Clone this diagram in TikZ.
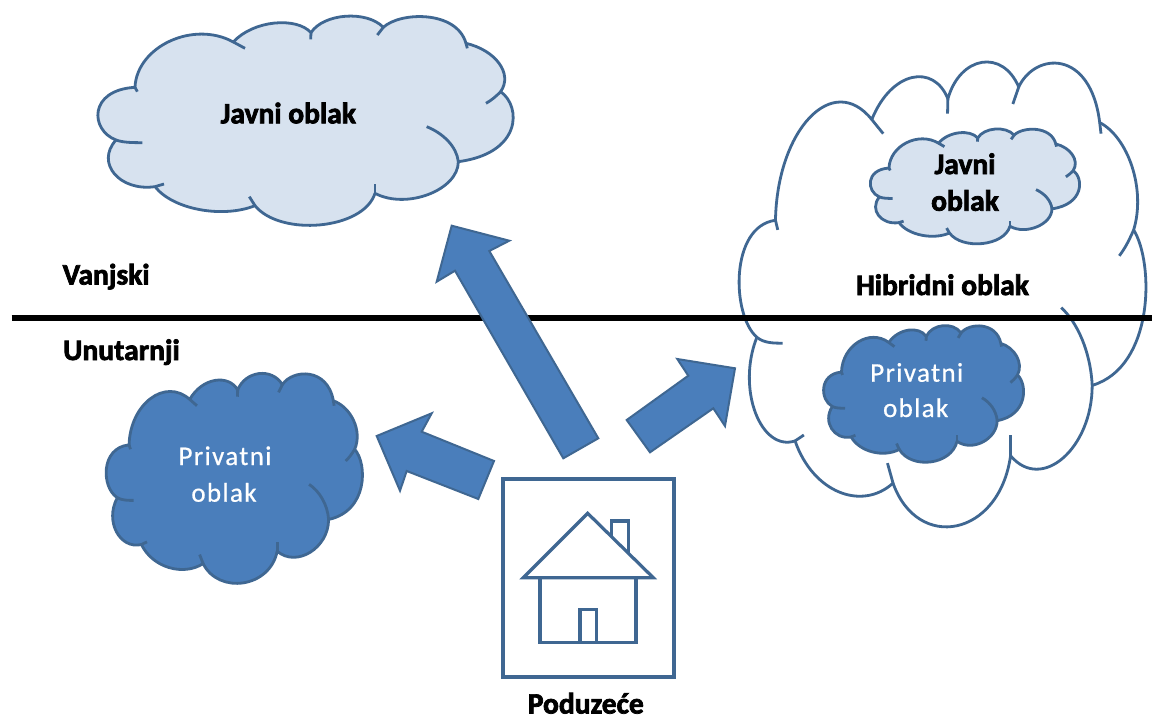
\documentclass[tikz,border=0pt]{standalone}
\usepackage{fontspec}
\setmainfont{Carlito}
\newfontfamily\headfont[FakeBold=2.5]{Carlito Bold}
\newfontfamily\privfont[LetterSpace=5,FakeBold=0.6]{Carlito}
\definecolor{strokeblue}{HTML}{3F6792}
\definecolor{arrowblue}{HTML}{4A7EBB}
\definecolor{lightcloud}{HTML}{D7E2EF}
\newcommand{\cloudshape}[5]{%
 \begin{scope}[shift={(#1,#2)},xscale=#3,yscale=#4]
  \draw[cloudline,fill=#5]
   (135,232) .. controls (140,110) and (310,30) .. (430,96)
   .. controls (490,30) and (620,20) .. (663,68)
   .. controls (700,10) and (830,0) .. (880,52)
   .. controls (930,5) and (1100,0) .. (1128,100)
   .. controls (1215,120) and (1270,190) .. (1232,245)
   .. controls (1295,290) and (1295,430) .. (1105,455)
   .. controls (1105,540) and (950,600) .. (855,550)
   .. controls (820,660) and (570,680) .. (495,587)
   .. controls (400,625) and (250,600) .. (195,530)
   .. controls (90,545) and (15,460) .. (78,390)
   .. controls (0,360) and (-5,240) .. (135,232) -- cycle;
  \draw[cloudline] (135,232) -- (142,245);
  \draw[cloudline] (430,96) -- (465,115);
  \draw[cloudline] (663,68) -- (662,88);
  \draw[cloudline] (880,52) -- (862,75);
  \draw[cloudline] (1128,100) -- (1132,115);
  \draw[cloudline] (1232,245) .. controls (1215,262) and (1205,270) .. (1188,280);
  \draw[cloudline] (1010,350) .. controls (1060,370) and (1100,410) .. (1105,455);
  \draw[cloudline] (855,550) -- (855,522);
  \draw[cloudline] (495,587) -- (478,560);
  \draw[cloudline] (195,530) -- (222,522);
  \draw[cloudline] (78,390) .. controls (100,398) and (130,398) .. (157,398);
 \end{scope}}
\tikzset{
 cloudline/.style={draw=strokeblue,line width=2.8pt,line join=round},
 blockarrow/.style={draw=strokeblue,line width=2pt,fill=arrowblue,line join=miter},
 houseline/.style={draw=strokeblue,line width=3.2pt,line join=miter},
 headlabel/.style={inner sep=0pt,anchor=base,font=\headfont\fontsize{29.5}{30}\selectfont,text=black},
 privlabel/.style={inner sep=0pt,anchor=base,font=\privfont\fontsize{27}{27}\selectfont,text=white},
}
\begin{document}
\begin{tikzpicture}[x=1pt,y=-1pt]
\useasboundingbox (0,0) rectangle (1152,720);
\fill[white] (0,0) rectangle (1152,720);
% clouds
\cloudshape{731.4}{48.5}{0.3265}{0.7404}{white}
\draw[line width=5.5pt,black] (11.7,318.2) -- (1152,318.2);
\cloudshape{90}{10}{0.33333}{0.33333}{lightcloud}
\cloudshape{866.3}{125.6}{0.168}{0.183}{lightcloud}
\cloudshape{819.8}{321.6}{0.1605}{0.2177}{arrowblue}
\cloudshape{101.3}{367.3}{0.2057}{0.3344}{arrowblue}
% arrows
\draw[blockarrow] (451.7,225.7) -- (509.3,240.7) -- (489.3,251) -- (598.3,438.3) -- (563.3,458.3) -- (455,270.7) -- (436.7,281.7) -- cycle;
\draw[blockarrow] (376.7,436) -- (431.7,413.3) -- (421.7,431.7) -- (494,461) -- (478.3,499) -- (406.7,471) -- (400,490.7) -- cycle;
\draw[blockarrow] (735,368.3) -- (677.3,359) -- (688.3,375.7) -- (626.7,420) -- (650,452.3) -- (713.3,408.3) -- (725,426) -- cycle;
% house
\draw[houseline,line width=3.8pt] (502.7,479.3) rectangle (674,676.7);
\draw[houseline] (611.7,536.9) -- (611.7,521) -- (628.3,521) -- (628.3,553.2);
\draw[houseline] (587.7,513.3) -- (523.3,577.7) -- (653.3,577.7) -- cycle;
\draw[houseline] (540,577.7) -- (540,642.3) -- (636,642.3) -- (636,577.7);
\draw[houseline] (580,642.3) -- (580,609.3) -- (596.7,609.3) -- (596.7,642.3);
% text
\node[headlabel] (javnibig) at (288.3,123.3) {Javni oblak};
\node[headlabel] (javnismalla) at (965,174) {Javni};
\node[headlabel] (javnismallb) at (965,210.7) {oblak};
\node[headlabel] (hibridni) at (942.5,295) {Hibridni oblak};
\node[headlabel,anchor=base west] (vanjski) at (62.5,284.5) {Vanjski};
\node[headlabel,anchor=base west] (unutarnji) at (63,360) {Unutarnji};
\node[headlabel] (poduzece) at (585.8,713.5) {Poduzeće};
\node[privlabel] (privra) at (916.7,381.7) {Privatni};
\node[privlabel] (privrb) at (915.7,417) {oblak};
\node[privlabel] (privla) at (225,465) {Privatni};
\node[privlabel] (privlb) at (224,501.7) {oblak};
\end{tikzpicture}
\end{document}
